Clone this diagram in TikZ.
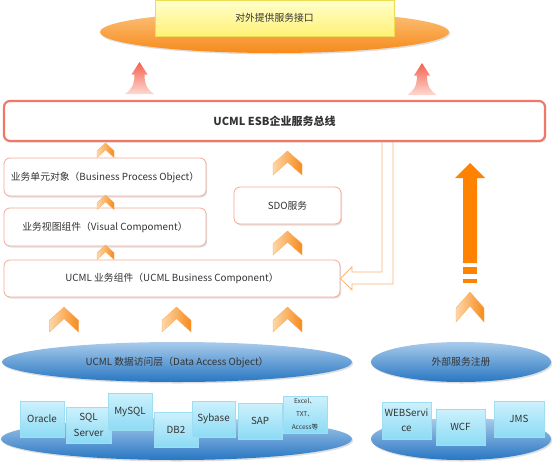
\documentclass[tikz,border=0pt]{standalone}
\usepackage{fontspec}
\setmainfont{Noto Sans CJK SC}
\usepackage{tikz}
\usetikzlibrary{shapes.geometric,shadows}
\definecolor{txtgray}{HTML}{333333}
\definecolor{esbline}{HTML}{F07868}
\definecolor{boxline}{HTML}{F6A898}
\definecolor{chevl}{HTML}{FDD7A8}
\definecolor{chevr}{HTML}{F78A1C}
\definecolor{redtop}{HTML}{F3614F}
\definecolor{redbot}{HTML}{FFD8D0}
\definecolor{bluetop}{HTML}{A8CBEB}
\definecolor{bluemid}{HTML}{6CA4D9}
\definecolor{bluebot}{HTML}{2876C2}
\definecolor{cyantop}{HTML}{CDF1FC}
\definecolor{cyanbot}{HTML}{8CDBF5}
\definecolor{cyanline}{HTML}{9FDDF3}
\definecolor{ortop}{HTML}{FCC27C}
\definecolor{orbot}{HTML}{F68A1A}
\definecolor{yeltop}{HTML}{FFFFCC}
\definecolor{yelbot}{HTML}{FFF176}
\definecolor{yelline}{HTML}{EEDC55}
\definecolor{bigorange}{HTML}{FF8200}
\definecolor{hollowline}{HTML}{F9B36E}

\begin{document}
\begin{tikzpicture}[x=1pt,y=-1pt,
    every node/.style={inner sep=0pt,text=txtgray,font=\fontsize{9.8}{12}\selectfont},
    softshadow/.style={drop shadow={opacity=0.25,shadow xshift=1.2pt,shadow yshift=-1.5pt}},
    busbox/.style={draw=esbline,line width=2.2pt,rounded corners=6pt,fill=white,softshadow,
      minimum width=541pt,minimum height=40pt,font=\fontsize{11}{13}\selectfont\bfseries},
    layerbox/.style={draw=boxline,line width=0.8pt,rounded corners=6pt,fill=white,softshadow},
    blueoval/.style={ellipse,top color=bluetop,middle color=bluemid,bottom color=bluebot,softshadow},
    srcbox/.style={draw=cyanline,line width=0.6pt,top color=cyantop,bottom color=cyanbot,
      align=center,font=\fontsize{9.8}{15.5}\selectfont},
    chev/.pic={\shade[left color=chevl,right color=chevr,draw=chevr!70,line width=0.3pt]
      (0,0) -- (0.5,0.53) -- (0.5,1) -- (0,0.47) -- (-0.5,1) -- (-0.5,0.53) -- cycle;},
    redup/.pic={\shade[top color=redtop,bottom color=redbot]
      (0,0) -- (8,12.5) -- (5,12.5) .. controls (5,24) and (9,28) .. (14.5,32)
      -- (-14.5,32) .. controls (-9,28) and (-5,24) .. (-5,12.5) -- (-8,12.5) -- cycle;}]
\useasboundingbox (0,0) rectangle (553,461);

\node[ellipse,minimum width=349pt,minimum height=42pt,top color=ortop,bottom color=orbot,softshadow] (portal) at (274.5,32) {};
\node[draw=yelline,line width=0.6pt,top color=yeltop,bottom color=yelbot,minimum width=239pt,minimum height=36pt] (api) at (274.5,18) {对外提供服务接口};

\pic at (139.5,62) {redup};
\pic at (422,63) {redup};

\node[busbox] (esb) at (274.5,121) {UCML ESB企业服务总线};

\node[layerbox,minimum width=202pt,minimum height=38pt] (bpo) at (105,177) {业务单元对象（Business Process Object）};
\node[layerbox,minimum width=202pt,minimum height=38pt] (vis) at (105,227) {业务视图组件（Visual Compoment）};
\node[layerbox,minimum width=107pt,minimum height=37pt] (sdo) at (287.5,205.5) {SDO服务};
\node[layerbox,minimum width=336pt,minimum height=37pt] (ucml) at (172,278.5) {UCML 业务组件（UCML Business Component）};

\foreach \y in {143,195,245}
  \pic[xscale=17,yscale=14.5] at (105.5,\y) {chev};
\foreach \y in {151,231}
  \pic[xscale=29,yscale=24] at (287.5,\y) {chev};
\foreach \x in {64,176.5,287.5}
  \pic[xscale=29,yscale=25] at (\x,307) {chev};
\pic[xscale=28,yscale=30] at (470,292) {chev};

\draw[hollowline,line width=0.8pt] (382,0 |- esb.south) -- (382,272) -- (352,272) -- (352,267) -- (ucml.east)
  -- (352,290) -- (352,284) -- (393,284) -- (393,0 |- esb.south);

\fill[bigorange] (470,163) -- (485,178) -- (477,178) -- (477,263) -- (463,263) -- (463,178) -- (455,178) -- cycle;
\fill[bigorange] (463,267) rectangle (477,274);
\fill[bigorange] (463,279) rectangle (477,283);

\node[blueoval,minimum width=350pt,minimum height=40pt] (dao) at (177,362) {UCML 数据访问层（Data Access Object）};
\node[blueoval,minimum width=180pt,minimum height=40pt] (reg) at (461,362) {外部服务注册};

\node[blueoval,minimum width=351pt,minimum height=42pt] (dbbase) at (176.5,439) {};
\node[blueoval,minimum width=180pt,minimum height=42pt] (svcbase) at (461,439) {};

\node[srcbox,minimum width=44pt,minimum height=36pt] (oracle) at (42,419) {Oracle};
\node[srcbox,minimum width=45pt,minimum height=36pt] (mssql) at (88.5,425) {SQL\\Server};
\node[srcbox,minimum width=44pt,minimum height=37pt] (mysql) at (130,411.5) {MySQL};
\node[srcbox,minimum width=44pt,minimum height=35pt] (db2) at (176,429.5) {DB2};
\node[srcbox,minimum width=43pt,minimum height=36pt] (sybase) at (213.5,419) {Sybase};
\node[srcbox,minimum width=44pt,minimum height=36pt] (sap) at (260,421) {SAP};
\node[srcbox,minimum width=44pt,minimum height=37pt,font=\fontsize{6.5}{13}\selectfont] (files) at (305,414.5) {Excel、\\TXT、\\Access等};
\node[srcbox,minimum width=49pt,minimum height=37pt] (websvc) at (406.5,420.5) {WEBServi\\ce};
\node[srcbox,minimum width=49pt,minimum height=36pt] (wcf) at (460.5,427) {WCF};
\node[srcbox,minimum width=50pt,minimum height=36pt] (jms) at (519,419) {JMS};
\end{tikzpicture}
\end{document}
